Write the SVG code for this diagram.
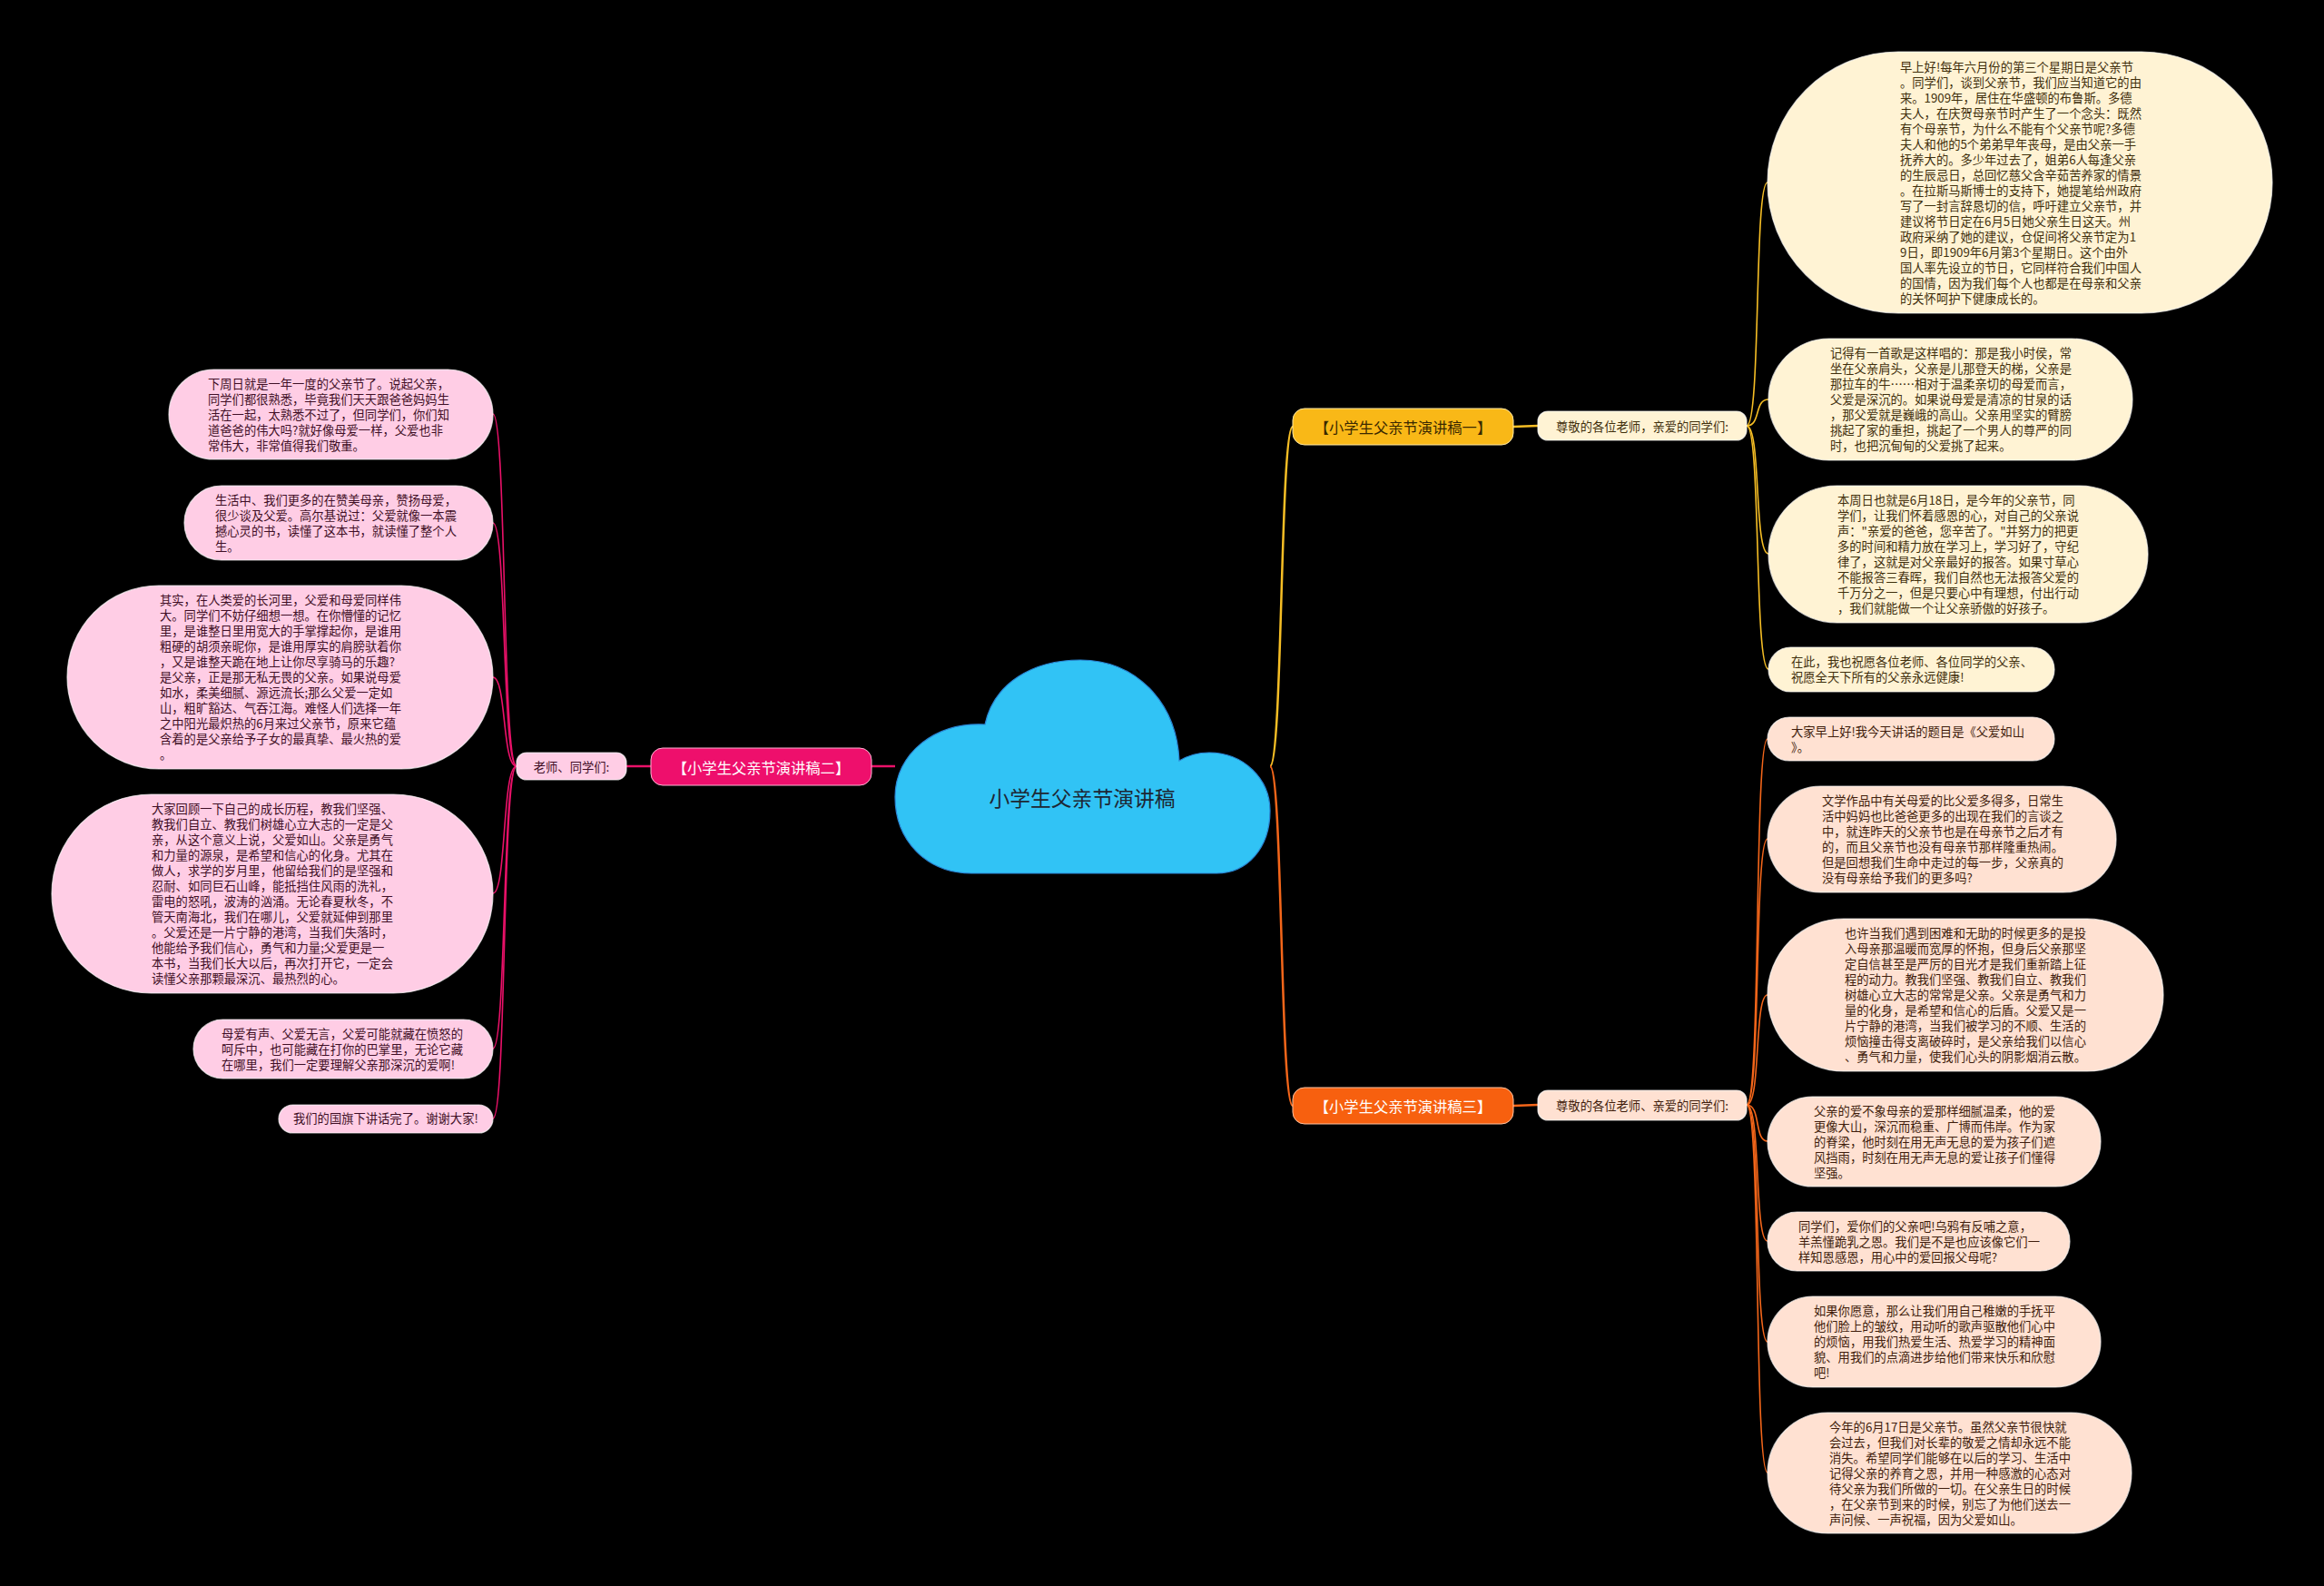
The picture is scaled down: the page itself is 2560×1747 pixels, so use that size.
<svg xmlns="http://www.w3.org/2000/svg" width="2560" height="1747" viewBox="0 0 2560 1747">
<style>
text{font-family:"Noto Sans CJK SC","Noto Sans",sans-serif}
.lf{font-size:13.3px}
.y rect{fill:#FFF3D4;stroke:#ffffff;stroke-opacity:.7;stroke-width:1.2}
.y text{fill:#3f2f0c}
.p rect{fill:#FFCDE5;stroke:#ffffff;stroke-opacity:.7;stroke-width:1.2}
.p text{fill:#3f0f26}
.o rect{fill:#FFE1D2;stroke:#ffffff;stroke-opacity:.7;stroke-width:1.2}
.o text{fill:#3f1d0c}
.br text{font-size:16.3px;text-anchor:middle;dominant-baseline:central}
.sub text{font-size:13.3px;text-anchor:middle;dominant-baseline:central}
.cy{stroke:#F6BE25;fill:none}
.cp{stroke:#EA1169;fill:none}
.co{stroke:#F4661A;fill:none}
.thick{stroke-width:2.5}
.thin{stroke-width:1.6}
</style>
<rect x="0" y="0" width="2560" height="1747" fill="#000000"/>

<g id="connectors">
  <path class="cy thick" d="M1399,844 C1413,844 1410,470 1424,470"/>
  <path class="co thick" d="M1399,844 C1413,844 1410,1218 1424,1218"/>
  <path class="cp thick" d="M986,844 L960,844"/>
  <path class="cy thick" d="M1667,470 L1694,469"/>
  <path class="co thick" d="M1667,1218 L1694,1217"/>
  <path class="cp thick" d="M717,844 L690,844"/>
  <path class="cy thin" d="M1924,469 C1940,469 1932,201 1947,201"/>
  <path class="cy thin" d="M1924,469 C1940,469 1932,440 1948,440"/>
  <path class="cy thin" d="M1924,469 C1940,469 1932,610 1948,610"/>
  <path class="cy thin" d="M1924,469 C1940,469 1932,737 1948,737"/>
  <path class="co thin" d="M1924,1217 C1940,1217 1932,814 1947,814"/>
  <path class="co thin" d="M1924,1217 C1940,1217 1932,924 1947,924"/>
  <path class="co thin" d="M1924,1217 C1940,1217 1932,1096 1947,1096"/>
  <path class="co thin" d="M1924,1217 C1940,1217 1932,1257 1947,1257"/>
  <path class="co thin" d="M1924,1217 C1940,1217 1932,1367 1947,1367"/>
  <path class="co thin" d="M1924,1217 C1940,1217 1932,1478 1947,1478"/>
  <path class="co thin" d="M1924,1217 C1940,1217 1932,1622 1947,1622"/>
  <path class="cp thin" d="M569,844 C553,844 558,456 543,456"/>
  <path class="cp thin" d="M569,844 C553,844 558,576 543,576"/>
  <path class="cp thin" d="M569,844 C553,844 558,746 543,746"/>
  <path class="cp thin" d="M569,844 C553,844 558,984 543,984"/>
  <path class="cp thin" d="M569,844 C553,844 558,1155 543,1155"/>
  <path class="cp thin" d="M569,844 C553,844 558,1232 543,1232"/>
</g>

<g id="center">
  <path d="M1070,962 C1020,962 986,925 986,878 C986,830 1030,795 1085,798 C1095,752 1138,727 1190,727 C1250,727 1296,772 1299,838 C1309,832 1320,829 1332,829 C1370,829 1399,858 1399,893 C1399,934 1374,962 1340,962 Z" fill="#31C3F5" stroke="#2a86d6" stroke-width="1.2"/>
  <text x="1192" y="878" font-size="22.8" fill="#1d2733" text-anchor="middle" dominant-baseline="central">小学生父亲节演讲稿</text>
</g>

<g id="branch1" class="br">
  <rect x="1424" y="450" width="243" height="40" rx="13" fill="#F9B817" stroke="#ffe9a6" stroke-width="1"/>
  <text x="1545.5" y="470" fill="#3a2800">【小学生父亲节演讲稿一】</text>
</g>
<g id="branch2" class="br">
  <rect x="717" y="824" width="243" height="41" rx="13" fill="#EE0F6C" stroke="#ffb3d3" stroke-width="1"/>
  <text x="838.5" y="844.5" fill="#ffffff">【小学生父亲节演讲稿二】</text>
</g>
<g id="branch3" class="br">
  <rect x="1424" y="1198" width="243" height="40" rx="13" fill="#F7600F" stroke="#ffc4a3" stroke-width="1"/>
  <text x="1545.5" y="1218" fill="#ffffff">【小学生父亲节演讲稿三】</text>
</g>

<g id="sub1" class="sub y">
  <rect x="1694" y="453" width="230" height="32" rx="11"/>
  <text x="1809" y="469">尊敬的各位老师，亲爱的同学们:</text>
</g>
<g id="sub2" class="sub p">
  <rect x="569" y="829" width="121" height="30" rx="11"/>
  <text x="629.5" y="844">老师、同学们:</text>
</g>
<g id="sub3" class="sub o">
  <rect x="1694" y="1201" width="230" height="33" rx="11"/>
  <text x="1809" y="1217.5">尊敬的各位老师、亲爱的同学们:</text>
</g>

<g id="leaf1a" class="y lf">
  <rect x="1947" y="57" width="556" height="288" rx="144"/>
  <text x="2093" y="78.5"><tspan x="2093">早上好!每年六月份的第三个星期日是父亲节</tspan><tspan x="2093" dy="17">。同学们，谈到父亲节，我们应当知道它的由</tspan><tspan x="2093" dy="17">来。1909年，居住在华盛顿的布鲁斯。多德</tspan><tspan x="2093" dy="17">夫人，在庆贺母亲节时产生了一个念头：既然</tspan><tspan x="2093" dy="17">有个母亲节，为什么不能有个父亲节呢?多德</tspan><tspan x="2093" dy="17">夫人和他的5个弟弟早年丧母，是由父亲一手</tspan><tspan x="2093" dy="17">抚养大的。多少年过去了，姐弟6人每逢父亲</tspan><tspan x="2093" dy="17">的生辰忌日，总回忆慈父含辛茹苦养家的情景</tspan><tspan x="2093" dy="17">。在拉斯马斯博士的支持下，她提笔给州政府</tspan><tspan x="2093" dy="17">写了一封言辞恳切的信，呼吁建立父亲节，并</tspan><tspan x="2093" dy="17">建议将节日定在6月5日她父亲生日这天。州</tspan><tspan x="2093" dy="17">政府采纳了她的建议，仓促间将父亲节定为1</tspan><tspan x="2093" dy="17">9日，即1909年6月第3个星期日。这个由外</tspan><tspan x="2093" dy="17">国人率先设立的节日，它同样符合我们中国人</tspan><tspan x="2093" dy="17">的国情，因为我们每个人也都是在母亲和父亲</tspan><tspan x="2093" dy="17">的关怀呵护下健康成长的。</tspan></text>
</g>
<g id="leaf1b" class="y lf">
  <rect x="1948" y="373" width="401" height="134" rx="67"/>
  <text x="2016" y="394"><tspan x="2016">记得有一首歌是这样唱的：那是我小时侯，常</tspan><tspan x="2016" dy="17">坐在父亲肩头，父亲是儿那登天的梯，父亲是</tspan><tspan x="2016" dy="17">那拉车的牛……相对于温柔亲切的母爱而言，</tspan><tspan x="2016" dy="17">父爱是深沉的。如果说母爱是清凉的甘泉的话</tspan><tspan x="2016" dy="17">，那父爱就是巍峨的高山。父亲用坚实的臂膀</tspan><tspan x="2016" dy="17">挑起了家的重担，挑起了一个男人的尊严的同</tspan><tspan x="2016" dy="17">时，也把沉甸甸的父爱挑了起来。</tspan></text>
</g>
<g id="leaf1c" class="y lf">
  <rect x="1948" y="535" width="418" height="151" rx="75.5"/>
  <text x="2024" y="556"><tspan x="2024">本周日也就是6月18日，是今年的父亲节，同</tspan><tspan x="2024" dy="17">学们，让我们怀着感恩的心，对自己的父亲说</tspan><tspan x="2024" dy="17">声："亲爱的爸爸，您辛苦了。"并努力的把更</tspan><tspan x="2024" dy="17">多的时间和精力放在学习上，学习好了，守纪</tspan><tspan x="2024" dy="17">律了，这就是对父亲最好的报答。如果寸草心</tspan><tspan x="2024" dy="17">不能报答三春晖，我们自然也无法报答父爱的</tspan><tspan x="2024" dy="17">千万分之一，但是只要心中有理想，付出行动</tspan><tspan x="2024" dy="17">，我们就能做一个让父亲骄傲的好孩子。</tspan></text>
</g>
<g id="leaf1d" class="y lf">
  <rect x="1948" y="713" width="315" height="49" rx="24.5"/>
  <text x="1973" y="734"><tspan x="1973">在此，我也祝愿各位老师、各位同学的父亲、</tspan><tspan x="1973" dy="17">祝愿全天下所有的父亲永远健康!</tspan></text>
</g>

<g id="leaf3a" class="o lf">
  <rect x="1947" y="790" width="316" height="48" rx="24"/>
  <text x="1973" y="810.5"><tspan x="1973">大家早上好!我今天讲话的题目是《父爱如山</tspan><tspan x="1973" dy="17">》。</tspan></text>
</g>
<g id="leaf3b" class="o lf">
  <rect x="1947" y="866" width="384" height="117" rx="58.5"/>
  <text x="2007" y="887"><tspan x="2007">文学作品中有关母爱的比父爱多得多，日常生</tspan><tspan x="2007" dy="17">活中妈妈也比爸爸更多的出现在我们的言谈之</tspan><tspan x="2007" dy="17">中，就连昨天的父亲节也是在母亲节之后才有</tspan><tspan x="2007" dy="17">的，而且父亲节也没有母亲节那样隆重热闹。</tspan><tspan x="2007" dy="17">但是回想我们生命中走过的每一步，父亲真的</tspan><tspan x="2007" dy="17">没有母亲给予我们的更多吗?</tspan></text>
</g>
<g id="leaf3c" class="o lf">
  <rect x="1947" y="1012" width="436" height="168" rx="84"/>
  <text x="2032" y="1033"><tspan x="2032">也许当我们遇到困难和无助的时候更多的是投</tspan><tspan x="2032" dy="17">入母亲那温暖而宽厚的怀抱，但身后父亲那坚</tspan><tspan x="2032" dy="17">定自信甚至是严厉的目光才是我们重新踏上征</tspan><tspan x="2032" dy="17">程的动力。教我们坚强、教我们自立、教我们</tspan><tspan x="2032" dy="17">树雄心立大志的常常是父亲。父亲是勇气和力</tspan><tspan x="2032" dy="17">量的化身，是希望和信心的后盾。父爱又是一</tspan><tspan x="2032" dy="17">片宁静的港湾，当我们被学习的不顺、生活的</tspan><tspan x="2032" dy="17">烦恼撞击得支离破碎时，是父亲给我们以信心</tspan><tspan x="2032" dy="17">、勇气和力量，使我们心头的阴影烟消云散。</tspan></text>
</g>
<g id="leaf3d" class="o lf">
  <rect x="1947" y="1208" width="367" height="99" rx="49.5"/>
  <text x="1998" y="1228.5"><tspan x="1998">父亲的爱不象母亲的爱那样细腻温柔，他的爱</tspan><tspan x="1998" dy="17">更像大山，深沉而稳重、广博而伟岸。作为家</tspan><tspan x="1998" dy="17">的脊梁，他时刻在用无声无息的爱为孩子们遮</tspan><tspan x="1998" dy="17">风挡雨，时刻在用无声无息的爱让孩子们懂得</tspan><tspan x="1998" dy="17">坚强。</tspan></text>
</g>
<g id="leaf3e" class="o lf">
  <rect x="1947" y="1335" width="333" height="65" rx="32.5"/>
  <text x="1981" y="1355.5"><tspan x="1981">同学们，爱你们的父亲吧!乌鸦有反哺之意，</tspan><tspan x="1981" dy="17">羊羔懂跪乳之恩。我们是不是也应该像它们一</tspan><tspan x="1981" dy="17">样知恩感恩，用心中的爱回报父母呢?</tspan></text>
</g>
<g id="leaf3f" class="o lf">
  <rect x="1947" y="1428" width="367" height="100" rx="50"/>
  <text x="1998" y="1449"><tspan x="1998">如果你愿意，那么让我们用自己稚嫩的手抚平</tspan><tspan x="1998" dy="17">他们脸上的皱纹，用动听的歌声驱散他们心中</tspan><tspan x="1998" dy="17">的烦恼，用我们热爱生活、热爱学习的精神面</tspan><tspan x="1998" dy="17">貌、用我们的点滴进步给他们带来快乐和欣慰</tspan><tspan x="1998" dy="17">吧!</tspan></text>
</g>
<g id="leaf3g" class="o lf">
  <rect x="1947" y="1556" width="401" height="133" rx="66.5"/>
  <text x="2015" y="1576.5"><tspan x="2015">今年的6月17日是父亲节。虽然父亲节很快就</tspan><tspan x="2015" dy="17">会过去，但我们对长辈的敬爱之情却永远不能</tspan><tspan x="2015" dy="17">消失。希望同学们能够在以后的学习、生活中</tspan><tspan x="2015" dy="17">记得父亲的养育之恩，并用一种感激的心态对</tspan><tspan x="2015" dy="17">待父亲为我们所做的一切。在父亲生日的时候</tspan><tspan x="2015" dy="17">，在父亲节到来的时候，别忘了为他们送去一</tspan><tspan x="2015" dy="17">声问候、一声祝福，因为父爱如山。</tspan></text>
</g>

<g id="leaf2a" class="p lf">
  <rect x="186" y="407" width="357" height="99" rx="49.5"/>
  <text x="229" y="427.5"><tspan x="229">下周日就是一年一度的父亲节了。说起父亲，</tspan><tspan x="229" dy="17">同学们都很熟悉，毕竟我们天天跟爸爸妈妈生</tspan><tspan x="229" dy="17">活在一起，太熟悉不过了，但同学们，你们知</tspan><tspan x="229" dy="17">道爸爸的伟大吗?就好像母爱一样，父爱也非</tspan><tspan x="229" dy="17">常伟大，非常值得我们敬重。</tspan></text>
</g>
<g id="leaf2b" class="p lf">
  <rect x="203" y="535" width="340" height="82" rx="41"/>
  <text x="237" y="555.5"><tspan x="237">生活中、我们更多的在赞美母亲，赞扬母爱，</tspan><tspan x="237" dy="17">很少谈及父爱。高尔基说过：父爱就像一本震</tspan><tspan x="237" dy="17">撼心灵的书，读懂了这本书，就读懂了整个人</tspan><tspan x="237" dy="17">生。</tspan></text>
</g>
<g id="leaf2c" class="p lf">
  <rect x="74" y="645" width="469" height="202" rx="101"/>
  <text x="176" y="666"><tspan x="176">其实，在人类爱的长河里，父爱和母爱同样伟</tspan><tspan x="176" dy="17">大。同学们不妨仔细想一想。在你懵懂的记忆</tspan><tspan x="176" dy="17">里，是谁整日里用宽大的手掌撑起你，是谁用</tspan><tspan x="176" dy="17">粗硬的胡须亲昵你，是谁用厚实的肩膀驮着你</tspan><tspan x="176" dy="17">，又是谁整天跪在地上让你尽享骑马的乐趣?</tspan><tspan x="176" dy="17">是父亲，正是那无私无畏的父亲。如果说母爱</tspan><tspan x="176" dy="17">如水，柔美细腻、源远流长;那么父爱一定如</tspan><tspan x="176" dy="17">山，粗旷豁达、气吞江海。难怪人们选择一年</tspan><tspan x="176" dy="17">之中阳光最炽热的6月来过父亲节，原来它蕴</tspan><tspan x="176" dy="17">含着的是父亲给予子女的最真挚、最火热的爱</tspan><tspan x="176" dy="17">。</tspan></text>
</g>
<g id="leaf2d" class="p lf">
  <rect x="57" y="875" width="486" height="219" rx="109.5"/>
  <text x="167" y="896"><tspan x="167">大家回顾一下自己的成长历程，教我们坚强、</tspan><tspan x="167" dy="17">教我们自立、教我们树雄心立大志的一定是父</tspan><tspan x="167" dy="17">亲，从这个意义上说，父爱如山。父亲是勇气</tspan><tspan x="167" dy="17">和力量的源泉，是希望和信心的化身。尤其在</tspan><tspan x="167" dy="17">做人，求学的岁月里，他留给我们的是坚强和</tspan><tspan x="167" dy="17">忍耐、如同巨石山峰，能抵挡住风雨的洗礼，</tspan><tspan x="167" dy="17">雷电的怒吼，波涛的汹涌。无论春夏秋冬，不</tspan><tspan x="167" dy="17">管天南海北，我们在哪儿，父爱就延伸到那里</tspan><tspan x="167" dy="17">。父爱还是一片宁静的港湾，当我们失落时，</tspan><tspan x="167" dy="17">他能给予我们信心，勇气和力量;父爱更是一</tspan><tspan x="167" dy="17">本书，当我们长大以后，再次打开它，一定会</tspan><tspan x="167" dy="17">读懂父亲那颗最深沉、最热烈的心。</tspan></text>
</g>
<g id="leaf2e" class="p lf">
  <rect x="213" y="1123" width="330" height="65" rx="32.5"/>
  <text x="244" y="1143.5"><tspan x="244">母爱有声、父爱无言，父爱可能就藏在愤怒的</tspan><tspan x="244" dy="17">呵斥中，也可能藏在打你的巴掌里，无论它藏</tspan><tspan x="244" dy="17">在哪里，我们一定要理解父亲那深沉的爱啊!</tspan></text>
</g>
<g id="leaf2f" class="p lf">
  <rect x="307" y="1217" width="236" height="31" rx="15.5"/>
  <text x="323" y="1237"><tspan x="323">我们的国旗下讲话完了。谢谢大家!</tspan></text>
</g>
</svg>
